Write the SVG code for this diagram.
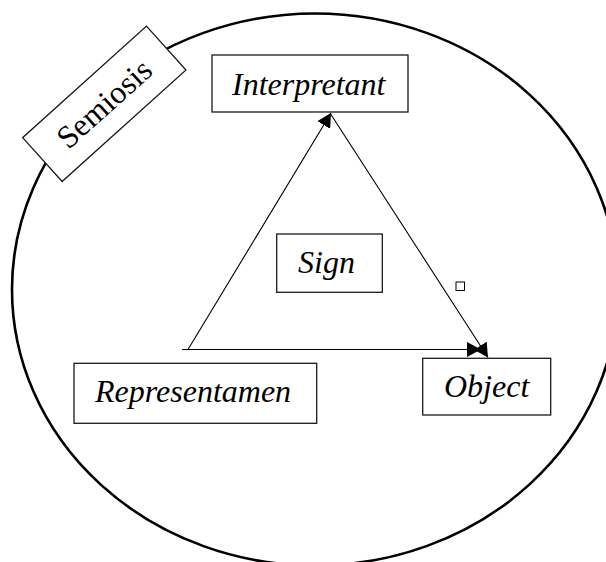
<svg xmlns="http://www.w3.org/2000/svg" width="606" height="562" viewBox="0 0 606 562">
  <style>
    .box { fill: #ffffff; stroke: #1a1a1a; stroke-width: 1.3; }
    .lbl { font-family: "Liberation Serif", "Times New Roman", serif; font-size: 32px; font-style: italic; fill: #000000; }
    .title { font-family: "Liberation Serif", "Times New Roman", serif; font-size: 32px; fill: #000000; }
    .edge { fill: none; stroke: #000000; stroke-width: 1.1; }
  </style>
  <defs>
    <marker id="arrow" viewBox="0 0 14 15" refX="14" refY="7.5" markerWidth="14" markerHeight="15" markerUnits="userSpaceOnUse" orient="auto">
      <path d="M0,0 L14,7.5 L0,15 z" fill="#000000"/>
    </marker>
  </defs>
  <rect x="0" y="0" width="606" height="562" fill="#ffffff"/>

  <g id="semiosis-boundary">
    <ellipse cx="315" cy="289.5" rx="303" ry="276" fill="none" stroke="#000000" stroke-width="2.6"/>
  </g>

  <g id="connectors">
    <line class="edge" x1="188" y1="349.5" x2="331" y2="113" marker-end="url(#arrow)"/>
    <line class="edge" x1="330" y1="113" x2="488" y2="357.5" marker-end="url(#arrow)"/>
    <line class="edge" x1="182" y1="349.5" x2="481" y2="349.5" marker-end="url(#arrow)"/>
  </g>

  <g id="semiosis">
    <g transform="translate(104.3,103.8) rotate(-42)">
      <rect class="box" x="-83.3" y="-29.5" width="166.6" height="59"/>
      <text class="title" x="0" y="10.5" text-anchor="middle">Semiosis</text>
    </g>
  </g>

  <g id="interpretant">
    <rect class="box" x="212" y="55" width="196" height="57"/>
    <text class="lbl" x="232" y="95">Interpretant</text>
  </g>

  <g id="sign">
    <rect class="box" x="276.7" y="234" width="105.6" height="58.3"/>
    <text class="lbl" x="298" y="273.3">Sign</text>
  </g>

  <g id="representamen">
    <rect class="box" x="74" y="363.3" width="242.7" height="60"/>
    <text class="lbl" x="95" y="401.7">Representamen</text>
  </g>

  <g id="object">
    <rect class="box" x="422.7" y="358.3" width="128" height="56.7"/>
    <text class="lbl" x="444" y="396.7">Object</text>
  </g>

  <g id="handle">
    <rect x="456" y="282" width="8.5" height="8.5" fill="#ffffff" stroke="#000000" stroke-width="1"/>
  </g>
</svg>
